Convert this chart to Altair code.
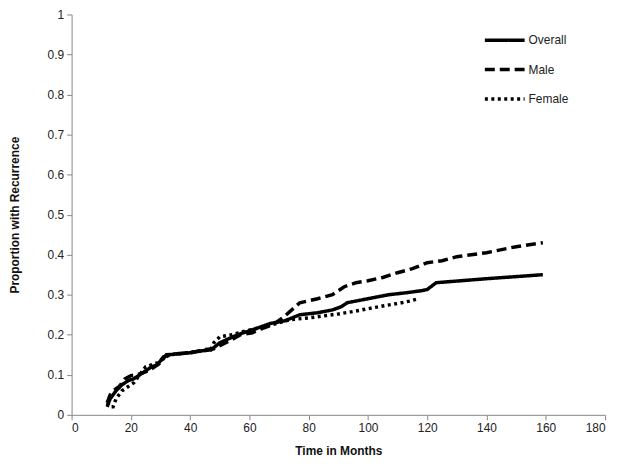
import altair as alt
import pandas as pd

overall_months = [12, 13, 15, 17, 19, 21, 23, 25, 27, 29, 31, 33, 36, 40, 44, 47, 50, 53, 56, 60, 64, 67, 72, 77, 83, 88, 91, 93, 100, 107, 113, 118, 120, 123, 140, 159]
overall_vals = [0.02, 0.04, 0.06, 0.075, 0.085, 0.09, 0.1, 0.11, 0.12, 0.125, 0.145, 0.15, 0.153, 0.155, 0.16, 0.162, 0.18, 0.19, 0.2, 0.21, 0.22, 0.228, 0.235, 0.25, 0.255, 0.262, 0.27, 0.28, 0.29, 0.30, 0.305, 0.31, 0.313, 0.33, 0.34, 0.35]

male_months = [12, 13, 14, 16, 18, 20, 22, 24, 26, 28, 30, 32, 35, 40, 45, 48, 52, 57, 61, 64, 68, 72, 77, 83, 88, 92, 96, 100, 105, 110, 115, 120, 125, 130, 140, 150, 159]
male_vals = [0.03, 0.05, 0.06, 0.07, 0.09, 0.098, 0.1, 0.105, 0.11, 0.12, 0.13, 0.15, 0.152, 0.155, 0.163, 0.165, 0.18, 0.2, 0.205, 0.215, 0.225, 0.247, 0.28, 0.29, 0.30, 0.32, 0.33, 0.335, 0.343, 0.355, 0.365, 0.38, 0.385, 0.395, 0.405, 0.42, 0.43]

female_months = [12, 13, 14, 15, 17, 19, 21, 23, 25, 27, 29, 31, 33, 37, 42, 47, 48, 50, 54, 58, 62, 66, 70, 74, 80, 86, 90, 95, 100, 105, 110, 114, 117]
female_vals = [0.03, 0.02, 0.02, 0.04, 0.06, 0.07, 0.08, 0.1, 0.12, 0.125, 0.13, 0.14, 0.15, 0.153, 0.158, 0.163, 0.18, 0.195, 0.2, 0.208, 0.215, 0.222, 0.23, 0.238, 0.242, 0.248, 0.252, 0.258, 0.265, 0.272, 0.278, 0.284, 0.29]

series = ["Overall", "Male", "Female"]
x_ticks = [0, 20, 40, 60, 80, 100, 120, 140, 160, 180]
y_ticks = [0, 0.1, 0.2, 0.3, 0.4, 0.5, 0.6, 0.7, 0.8, 0.9, 1]

rows = []
for name, ms, vs in [("Overall", overall_months, overall_vals),
                     ("Male", male_months, male_vals),
                     ("Female", female_months, female_vals)]:
    for m, v in zip(ms, vs):
        rows.append({"series": name, "month": m, "value": v})
df = pd.DataFrame(rows)

FONT = "Liberation Sans"

chart = alt.Chart(df).mark_line(color="black", strokeWidth=3.5).encode(
    x=alt.X("month:Q", title="Time in Months",
            scale=alt.Scale(domain=[0, 180], nice=False),
            axis=alt.Axis(values=x_ticks, grid=False, titlePadding=12)),
    y=alt.Y("value:Q", title="Proportion with Recurrence",
            scale=alt.Scale(domain=[0, 1], nice=False),
            axis=alt.Axis(values=y_ticks, format="~g", grid=False, titlePadding=26)),
    strokeDash=alt.StrokeDash("series:N",
        scale=alt.Scale(domain=series, range=[[1, 0], [10, 5], [3, 3.5]]),
        legend=alt.Legend(title=None, orient="none", legendX=414, legendY=4,
                          symbolType="stroke", symbolSize=1600,
                          symbolStrokeWidth=3.5, symbolStrokeColor="black",
                          labelFont=FONT, labelFontSize=12, labelColor="#222",
                          labelOffset=2, rowPadding=0.5)),
    detail="series:N",
).properties(
    width=537, height=403,
    autosize=alt.AutoSizeParams(type="none"),
    padding={"left": 64, "top": 5, "right": 12, "bottom": 50},
).configure_view(stroke=None).configure_axis(
    domainColor="#888", tickColor="#888", tickSize=5,
    labelFont=FONT, labelFontSize=12, labelColor="#222", labelPadding=3,
    titleFont=FONT, titleFontSize=12, titleFontWeight="bold", titleColor="#111",
)

chart.save("out.html", embed_options={"renderer": "svg", "actions": False})
